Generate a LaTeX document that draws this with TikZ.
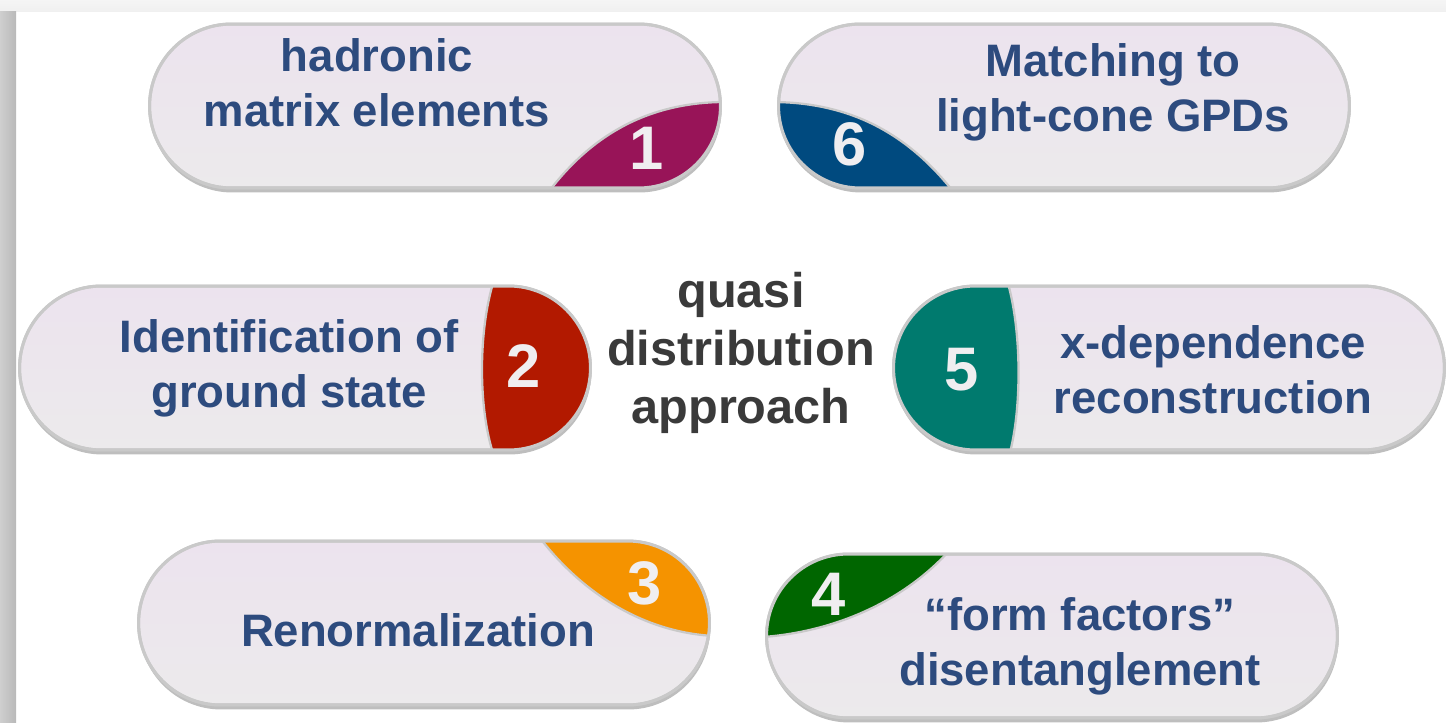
\documentclass[tikz,border=0pt]{standalone}
\usepackage{fontspec}
\usepackage[]{tikz}
\usetikzlibrary{shadows,positioning}
\newfontfamily\pillfont{Liberation Sans}
\definecolor{pilltop}{HTML}{ECE3EE}
\definecolor{pillbot}{HTML}{ECEAEC}
\definecolor{pillrim}{HTML}{C9C9C9}
\definecolor{pilltext}{HTML}{2D4B7E}
\definecolor{midtext}{HTML}{3A3A3A}
\definecolor{digit}{HTML}{F0EEF0}
\definecolor{segone}{HTML}{981458}
\definecolor{segtwo}{HTML}{B21900}
\definecolor{segthree}{HTML}{F59300}
\definecolor{segfour}{HTML}{006600}
\definecolor{segfive}{HTML}{007A6E}
\definecolor{segsix}{HTML}{004A7F}

% coloured cap of a pill: #1 pill, #2 colour, #3 dividing curve, #4 closing points
\newcommand{\numseg}[4]{%
  \begin{scope}
    \clip[rounded corners=1.64cm] (#1.north west) rectangle (#1.south east);
    \fill[#2] #3 #4 -- cycle;
    \draw[segline] #3;
  \end{scope}
  \draw[rim] (#1.north west) rectangle (#1.south east);}

\begin{document}
\begin{tikzpicture}[x=0.02cm,y=-0.02cm, % 1 unit = 1px, y downwards
  pill/.style={rectangle,rounded corners=1.64cm,minimum width=11.42cm,minimum height=3.28cm,
    outer sep=0pt,draw=pillrim,line width=0.06cm,top color=pilltop,bottom color=pillbot,
    drop shadow={opacity=0.6,shadow xshift=0.015cm,shadow yshift=-0.09cm,fill=gray!85}},
  rim/.style={draw=pillrim,line width=0.06cm,rounded corners=1.64cm},
  segline/.style={draw=pillrim,line width=0.045cm},
  label/.style={align=center,text=pilltext,font=\pillfont\bfseries\fontsize{25.9}{31.2}\selectfont},
  num/.style={text=digit,font=\pillfont\bfseries\fontsize{35}{40}\selectfont}]
  \useasboundingbox (0,0) rectangle (1446,723);
  % slide background with its shadow edges
  \fill[white] (0,0) rectangle (1446,723);
  \shade[top color=gray!8,bottom color=gray!12] (0,0) rectangle (1446,12);
  \shade[left color=gray!38,right color=gray!55] (0,12) rectangle (16,723);

  % pills
  \node[pill] (p1) at (435,106) {};
  \node[pill] (p6) at (1064,106) {};
  \node[pill] (p2) at (305,368) {};
  \node[pill,minimum width=11.02cm] (p5) at (1169,368) {};
  \node[pill] (p3) at (424,623) {};
  \node[pill] (p4) at (1052,636) {};

  % coloured caps
  \numseg{p1}{segone}{(550,190) .. controls (600,125) and (660,103) .. (722,102)}{-- (760,102) -- (760,210) -- (540,210)}
  \numseg{p6}{segsix}{(775,102) .. controls (840,103) and (900,125) .. (952,190)}{-- (960,210) -- (760,210) -- (760,102)}
  \numseg{p2}{segtwo}{(494,280) .. controls (478,330) and (478,410) .. (494,456)}{-- (620,456) -- (620,280)}
  \numseg{p5}{segfive}{(1007,280) .. controls (1022,330) and (1022,410) .. (1009,456)}{-- (880,456) -- (880,280)}
  \numseg{p3}{segthree}{(540,538) .. controls (580,590) and (640,632) .. (714,636)}{-- (730,636) -- (730,530) -- (540,530)}
  \numseg{p4}{segfour}{(763,637) .. controls (830,632) and (900,605) .. (950,550)}{-- (950,540) -- (750,540) -- (750,637)}

  % numbers
  \node[num] (n1) at (647,148) {1};
  \node[num] (n2) at (524,366) {2};
  \node[num] (n3) at (645,583) {3};
  \node[num] (n4) at (829,594) {4};
  \node[num] (n5) at (962,370) {5};
  \node[num] (n6) at (850,144) {6};

  % pill texts
  \node[label] (t1) at (377,83) {hadronic\\matrix elements};
  \node[label] (t6) at (1113,92) {Matching to\\light-cone GPDs};
  \node[label] (t2) at (289,368) {Identification of\\ground state};
  \node[label] (t5) at (1213,370) {x-dependence\\reconstruction};
  \node[label] (t3) at (418,630) {Renormalization};
  \node[label] (t4) at (1080,646) {“form factors”\\disentanglement};

  % centre
  \node[align=center,text=midtext,font=\pillfont\bfseries\fontsize{27.7}{33}\selectfont] (qda) at (741,353) {quasi\\distribution\\approach};
\end{tikzpicture}
\end{document}
